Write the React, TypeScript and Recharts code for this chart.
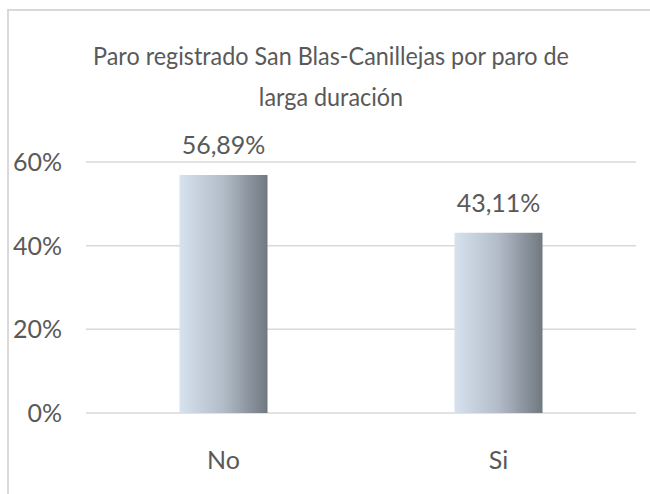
import React from 'react';
import { BarChart, Bar, XAxis, YAxis, CartesianGrid, LabelList } from 'recharts';

const categories = ['No', 'Si'];
const values = [56.89, 43.11];
const yTicks = [0, 20, 40, 60];

const data = categories.map((name, i) => ({ name, value: values[i] }));

const FONT = 'Lato, "Open Sans", sans-serif';
const TEXT = '#595959';

export default function App() {
    return (
        <div
            style={{
                position: 'absolute',
                left: 0,
                top: 0,
                width: 650,
                height: 494,
                overflow: 'hidden',
                background: '#fff',
                fontFamily: FONT,
            }}
        >
            <div
                style={{
                    position: 'absolute',
                    left: 7,
                    top: 9,
                    width: 700,
                    height: 600,
                    border: '2px solid #d9d9d9',
                }}
            />
            <div
                style={{
                    position: 'absolute',
                    left: 0,
                    top: 35,
                    width: 662,
                    textAlign: 'center',
                    color: TEXT,
                    fontSize: 25,
                    lineHeight: '41px',
                    transform: 'scaleX(0.935)',
                    transformOrigin: '331px 0',
                }}
            >
                Paro registrado San Blas-Canillejas por paro de
                <br />
                larga duración
            </div>
            <div style={{ position: 'absolute', left: 0, top: 0 }}>
                <BarChart
                    width={650}
                    height={494}
                    data={data}
                    margin={{ top: 162, right: 14, bottom: 0, left: 0 }}
                    barCategoryGap="34%"
                >
                    <defs>
                        <linearGradient id="barGrad" x1="0" y1="0" x2="1" y2="0">
                            <stop offset="0%" stopColor="#d7e2ef" />
                            <stop offset="50%" stopColor="#b2bcc8" />
                            <stop offset="100%" stopColor="#707880" />
                        </linearGradient>
                    </defs>
                    <CartesianGrid vertical={false} stroke="#d9d9d9" strokeWidth={1.5} />
                    <XAxis
                        dataKey="name"
                        height={81}
                        axisLine={false}
                        tickLine={false}
                        tickSize={0}
                        tickMargin={38}
                        tick={{ fill: TEXT, fontSize: 25, fontFamily: FONT }}
                    />
                    <YAxis
                        width={86}
                        domain={[0, 60]}
                        ticks={yTicks}
                        axisLine={false}
                        tickLine={false}
                        tickSize={0}
                        tickMargin={24}
                        tickFormatter={(v) => `${v}%`}
                        tick={{ fill: TEXT, fontSize: 25, fontFamily: FONT }}
                    />
                    <Bar dataKey="value" fill="url(#barGrad)" isAnimationActive={false}>
                        <LabelList
                            dataKey="value"
                            position="top"
                            offset={21}
                            formatter={(v: any) => `${Number(v).toFixed(2).replace('.', ',')}%`}
                            style={{ fill: TEXT, fontSize: 25, fontFamily: FONT }}
                        />
                    </Bar>
                </BarChart>
            </div>
        </div>
    );
}
